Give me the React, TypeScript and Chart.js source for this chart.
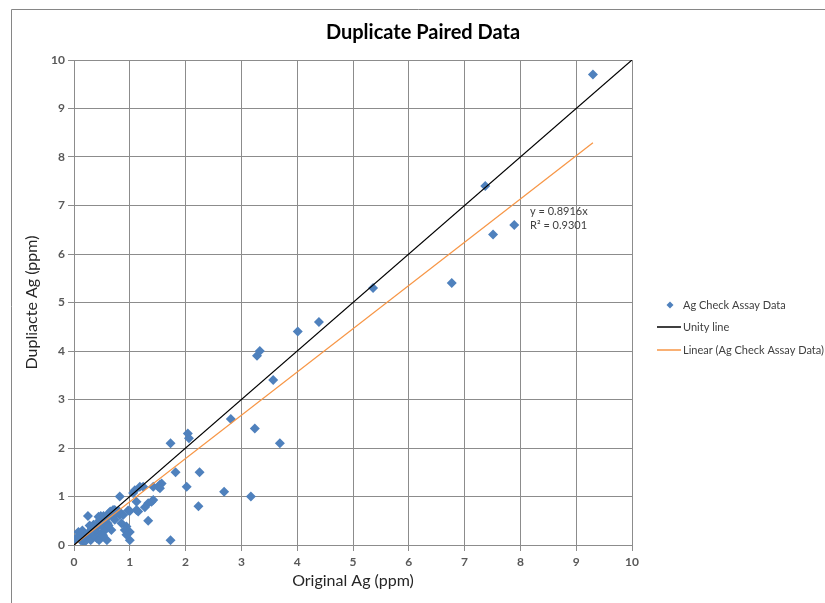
import React, { useEffect, useRef } from "react";
import { Chart, registerables } from "chart.js";

Chart.register(...registerables);

const FONT = "Lato, 'Liberation Sans', sans-serif";

const chartTitle = "Duplicate Paired Data";
const xAxisTitle = "Original Ag (ppm)";
const yAxisTitle = "Dupliacte Ag (ppm)";
const seriesName = "Ag Check Assay Data";
const unityName = "Unity line";
const trendName = "Linear (Ag Check Assay Data)";
const trendEquation = "y = 0.8916x";
const trendR2 = "R² = 0.9301";
const trendSlope = 0.8916;

const originalAg: number[] = [
  9.3, 7.37, 7.51, 7.89, 6.77, 5.36, 4.39, 4.01, 3.28, 3.33, 3.57, 2.81, 3.24, 3.69,
  2.04, 2.06, 2.25, 2.02, 2.69, 3.17, 2.23, 1.73, 1.82, 1.73,
  1.0, 1.18, 1.24, 1.42, 1.51, 1.54, 1.57, 1.54, 1.06, 1.09, 0.82, 1.39, 1.42, 1.33,
  1.27, 1.33, 1.12, 1.15, 1.12, 1.0, 0.97, 1.0, 0.94, 0.91, 0.94, 0.85, 0.88, 0.82,
  0.25, 0.59, 0.7, 0.65, 0.7, 0.53, 0.44, 0.73, 0.62, 0.56, 0.73, 0.44, 0.32, 0.49,
  0.41, 0.2, 0.67, 0.02, 0.08, 0.11, 0.05, 0.15, 0.3, 0.35, 0.25, 0.4, 0.5, 0.6,
  0.55, 0.45, 0.35, 0.28, 0.18, 0.12, 0.38, 0.62, 0.76, 0.8, 0.48, 0.58, 0.3, 0.22,
  0.15, 0.45, 0.52,
];

const duplicateAg: number[] = [
  9.7, 7.4, 6.4, 6.6, 5.4, 5.3, 4.6, 4.4, 3.9, 4.0, 3.4, 2.6, 2.4, 2.1,
  2.3, 2.2, 1.5, 1.2, 1.1, 1.0, 0.8, 2.1, 1.5, 0.1,
  0.1, 1.2, 1.2, 1.2, 1.2, 1.24, 1.27, 1.17, 1.07, 1.13, 1.0, 0.89, 0.93, 0.86,
  0.78, 0.5, 0.89, 0.69, 0.72, 0.7, 0.71, 0.27, 0.38, 0.31, 0.21, 0.45, 0.62, 0.62,
  0.6, 0.1, 0.72, 0.69, 0.58, 0.6, 0.58, 0.72, 0.65, 0.52, 0.52, 0.41, 0.34, 0.24,
  0.14, 0.14, 0.31, 0.1, 0.27, 0.2, 0.15, 0.3, 0.1, 0.2, 0.25, 0.35, 0.4, 0.45,
  0.3, 0.5, 0.42, 0.4, 0.05, 0.1, 0.3, 0.4, 0.66, 0.7, 0.6, 0.55, 0.25, 0.2,
  0.15, 0.1, 0.2,
];

const unityX: number[] = [0, 10];
const unityY: number[] = [0, 10];

const xTicks: number[] = [0, 1, 2, 3, 4, 5, 6, 7, 8, 9, 10];
const yTicks: number[] = [0, 1, 2, 3, 4, 5, 6, 7, 8, 9, 10];

const COLORS = {
  marker: "#4F81BD",
  unity: "#000000",
  trend: "#F79646",
  grid: "#8c8c8c",
  tick: "#595959",
  text: "#404040",
  border: "#868686",
};

export default function App() {
  const ref = useRef<HTMLCanvasElement | null>(null);

  useEffect(() => {
    const canvas = ref.current;
    if (!canvas) return;

    const maxX = Math.max(...originalAg);
    const trendX = [0, maxX];
    const trendY = trendX.map((x) => x * trendSlope);

    const overlay = {
      id: "overlay",
      afterDraw(chart: any) {
        const ctx = chart.ctx as CanvasRenderingContext2D;
        ctx.save();
        // outer chart border
        ctx.strokeStyle = COLORS.border;
        ctx.lineWidth = 1;
        ctx.beginPath();
        ctx.moveTo(11.5, 603);
        ctx.lineTo(11.5, 9.5);
        ctx.lineTo(825, 9.5);
        ctx.stroke();

        // title
        ctx.fillStyle = "#000000";
        ctx.font = `bold 20px ${FONT}`;
        ctx.textAlign = "center";
        ctx.textBaseline = "middle";
        ctx.fillText(chartTitle, 423, 33);

        // trendline label
        ctx.fillStyle = COLORS.text;
        ctx.font = `11px ${FONT}`;
        ctx.textAlign = "left";
        ctx.fillText(trendEquation, 530, 211);
        ctx.fillText(trendR2, 530, 225);

        // legend
        const tx = 683;
        ctx.fillStyle = COLORS.marker;
        ctx.beginPath();
        const cx = 670, cy = 305, r = 3.5;
        ctx.moveTo(cx - r, cy);
        ctx.lineTo(cx, cy - r);
        ctx.lineTo(cx + r, cy);
        ctx.lineTo(cx, cy + r);
        ctx.closePath();
        ctx.fill();
        ctx.lineWidth = 1.5;
        ctx.strokeStyle = COLORS.unity;
        ctx.beginPath();
        ctx.moveTo(657, 327);
        ctx.lineTo(681, 327);
        ctx.stroke();
        ctx.strokeStyle = COLORS.trend;
        ctx.beginPath();
        ctx.moveTo(657, 350);
        ctx.lineTo(681, 350);
        ctx.stroke();
        ctx.fillStyle = COLORS.text;
        ctx.font = `11px ${FONT}`;
        ctx.fillText(seriesName, tx, 305);
        ctx.fillText(unityName, tx, 327);
        ctx.fillText(trendName, tx, 350);
        ctx.restore();
      },
    };

    const chart = new Chart(canvas, {
      type: "scatter",
      data: {
        datasets: [
          {
            label: unityName,
            data: unityX.map((x, i) => ({ x, y: unityY[i] })),
            showLine: true,
            borderColor: COLORS.unity,
            borderWidth: 1.25,
            pointRadius: 0,
            fill: false,
          },
          {
            label: trendName,
            data: trendX.map((x, i) => ({ x, y: trendY[i] })),
            showLine: true,
            borderColor: COLORS.trend,
            borderWidth: 1.25,
            pointRadius: 0,
            fill: false,
          },
          {
            label: seriesName,
            data: originalAg.map((x, i) => ({ x, y: duplicateAg[i] })),
            pointStyle: "rectRot",
            pointRadius: 5,
            backgroundColor: COLORS.marker,
            borderColor: COLORS.marker,
            borderWidth: 0,
          },
        ],
      },
      options: {
        responsive: false,
        animation: false,
        devicePixelRatio: 1,
        layout: { padding: { left: 0, top: 60, right: 193, bottom: 0 } },
        plugins: {
          legend: { display: false },
          title: { display: false },
          tooltip: { enabled: false },
        },
        scales: {
          x: {
            type: "linear",
            min: 0,
            max: 10,
            afterBuildTicks: (s: any) => {
              s.ticks = xTicks.map((v) => ({ value: v }));
            },
            afterFit: (s: any) => {
              s.height = 58;
            },
            ticks: {
              color: COLORS.tick,
              font: { family: FONT, size: 12, weight: "bold" },
              padding: 4,
              maxRotation: 0,
            },
            grid: { color: COLORS.grid, tickLength: 6, lineWidth: 1 },
            border: { color: COLORS.grid },
            title: {
              display: true,
              text: xAxisTitle,
              color: "#262626",
              font: { family: FONT, size: 16 },
              padding: { top: 0, bottom: 12.4 },
            },
          },
          y: {
            type: "linear",
            min: 0,
            max: 10,
            afterBuildTicks: (s: any) => {
              s.ticks = yTicks.map((v) => ({ value: v }));
            },
            afterFit: (s: any) => {
              s.width = 74;
            },
            ticks: {
              color: COLORS.tick,
              font: { family: FONT, size: 12, weight: "bold" },
              padding: 3,
            },
            grid: { color: COLORS.grid, tickLength: 6, lineWidth: 1 },
            border: { color: COLORS.grid },
            title: {
              display: true,
              text: yAxisTitle,
              color: "#262626",
              font: { family: FONT, size: 16 },
              padding: { top: 22.4, bottom: 0 },
            },
          },
        },
      },
      plugins: [overlay],
    } as any);

    return () => chart.destroy();
  }, []);

  return (
    <div style={{ position: "fixed", left: 0, top: 0, width: 825, height: 603, background: "#ffffff" }}>
      <canvas ref={ref} width={825} height={603} style={{ width: 825, height: 603, display: "block" }} />
    </div>
  );
}
